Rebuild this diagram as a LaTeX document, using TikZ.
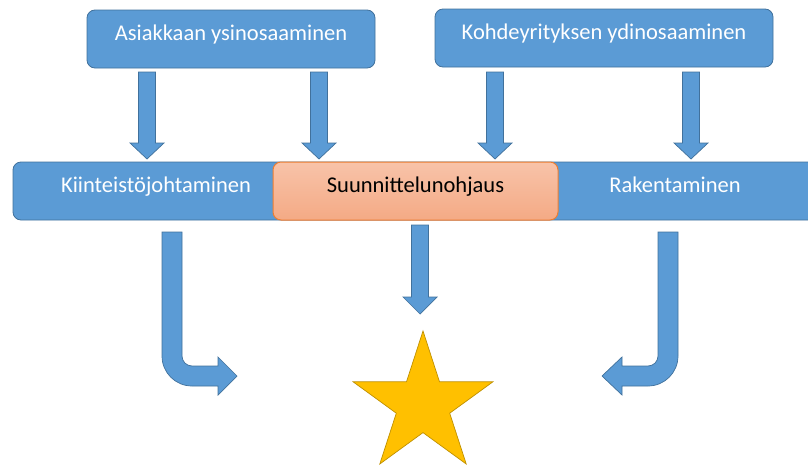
\documentclass[tikz,border=0pt]{standalone}
\usepackage{fontspec}
\setmainfont{Carlito}
\definecolor{officeblue}{HTML}{5B9BD5}
\definecolor{blueedge}{HTML}{41719C}
\definecolor{peachtop}{HTML}{F8C3A9}
\definecolor{peachbot}{HTML}{F4AA85}
\definecolor{peachedge}{HTML}{ED7D31}
\definecolor{gold}{HTML}{FFC000}
\definecolor{goldedge}{HTML}{BF9000}

% vertical block arrow: centre x, shaft top, head base, tip
\newcommand\blkdown[4]{%
  \filldraw[blockarrow] (#1-8.5,#2) -- (#1+8.5,#2) -- (#1+8.5,#3) -- (#1+17,#3)
    -- (#1,#4) -- (#1-17,#3) -- (#1-8.5,#3) -- cycle;}

\begin{document}
\begin{tikzpicture}[x=1pt,y=-1pt,
  labelfont/.style={font=\fontsize{22.5}{26}\selectfont, text height=13pt, text depth=10pt},
  boxbase/.style={rounded corners=8pt, line width=0.8pt, inner sep=0pt,
    minimum height=58pt, labelfont},
  topbox/.style={boxbase, fill=officeblue, draw=blueedge, text=white},
  barbox/.style={boxbase, fill=officeblue, draw=blueedge},
  bartext/.style={text=white, inner sep=0pt, labelfont},
  peachbox/.style={boxbase, top color=peachtop, bottom color=peachbot,
    draw=peachedge, line width=1pt, text=black},
  blockarrow/.style={fill=officeblue, draw=blueedge, line width=0.7pt},
  starshape/.style={fill=gold, draw=goldedge, line width=0.7pt}]
\useasboundingbox (0,0) rectangle (808,466);
\clip (0,0) rectangle (808,466);

% two source boxes
\node[topbox, minimum width=288pt] (asiakas) at (231,39) {Asiakkaan ysinosaaminen};
\node[topbox, minimum width=338pt] (kohde) at (604,38) {Kohdeyrityksen ydinosaaminen};

% arrows from the source boxes down to the process bar
\blkdown{147}{72}{143}{159}
\blkdown{319}{72}{143}{159}
\blkdown{495}{72}{143}{159}
\blkdown{691}{72}{143}{159}

% process bar with the highlighted middle phase
\node[barbox, minimum width=817pt] (bar) at (421.5,191) {};
\node[bartext] (kiint) at (156,191) {Kiinteistöjohtaminen};
\node[bartext] (raken) at (675,191) {Rakentaminen};
\node[peachbox, minimum width=285pt] (suunn) at (415.5,191) {Suunnittelunohjaus};

% arrows towards the goal
\blkdown{420}{225}{297}{314}
\filldraw[blockarrow] (162,232) -- (182,232) -- (182,356)
  .. controls (182,361.5) and (186.5,366) .. (192,366) -- (218,366) -- (218,357)
  -- (237,376) -- (218,395) -- (218,386) -- (192,386)
  .. controls (175.4,386) and (162,372.6) .. (162,356) -- cycle;
\filldraw[blockarrow] (678,232) -- (658,232) -- (658,356)
  .. controls (658,361.5) and (653.5,366) .. (648,366) -- (622,366) -- (622,357)
  -- (602,376) -- (622,395) -- (622,386) -- (648,386)
  .. controls (664.6,386) and (678,372.6) .. (678,356) -- cycle;

% goal star
\filldraw[starshape] (423,331) -- (439.5,381.8) -- (492.9,381.8) -- (449.7,413.2)
  -- (466.2,464) -- (423,432.6) -- (379.8,464) -- (396.3,413.2)
  -- (353.1,381.8) -- (406.5,381.8) -- cycle;
\end{tikzpicture}
\end{document}
